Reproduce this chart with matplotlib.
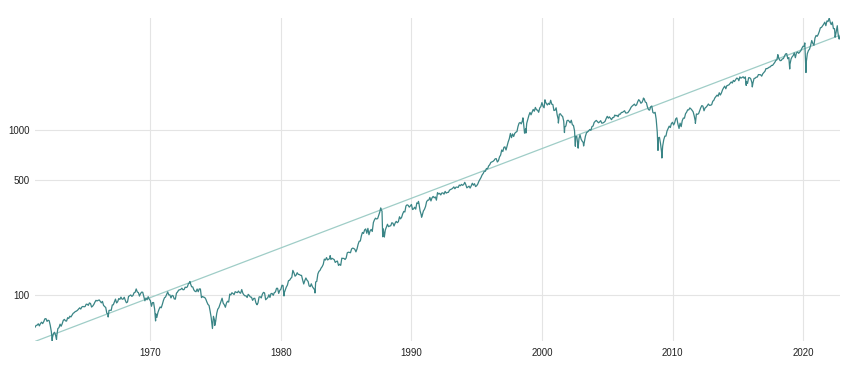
import numpy as np
import pandas as pd
import matplotlib.pyplot as plt
from matplotlib.ticker import NullLocator

plt.rcParams['font.family'] = ['Liberation Sans', 'DejaVu Sans']

# S&P 500 month-end closes, Feb 1961 .. Oct 2022
close = [
    63.44, 65.06, 65.31, 66.56, 64.64, 66.76, 68.07, 66.73, 68.62, 71.32, 71.55,
    68.84, 69.96, 69.55, 65.24, 59.63, 54.75, 58.23, 59.12, 56.27, 56.52, 62.26, 63.10,
    66.20, 64.29, 66.57, 69.80, 70.80, 69.37, 69.13, 72.50, 71.70, 74.01, 73.23, 75.02,
    77.04, 77.80, 78.98, 79.46, 80.37, 81.69, 83.18, 81.83, 84.18, 84.86, 84.42, 84.75,
    87.56, 87.43, 86.16, 89.11, 88.42, 84.12, 85.25, 87.17, 89.96, 92.42, 91.61, 92.43,
    92.88, 91.22, 89.23, 91.06, 86.13, 84.74, 83.60, 77.10, 76.56, 80.20, 80.45, 80.33,
    86.61, 86.78, 90.20, 94.01, 89.08, 90.64, 94.75, 93.64, 96.71, 93.90, 94.00, 96.47,
    92.24, 89.36, 90.20, 97.59, 98.68, 99.58, 97.74, 98.86, 102.67, 103.41, 108.37, 103.86,
    103.01, 98.13, 101.51, 103.69, 103.46, 97.71, 91.83, 95.51, 93.12, 97.24, 93.81, 92.06,
    85.02, 89.50, 89.63, 81.52, 76.55, 72.72, 78.05, 81.52, 84.21, 83.25, 87.20, 92.15,
    95.88, 96.75, 100.31, 103.95, 99.63, 99.70, 95.58, 99.03, 98.34, 94.23, 93.99, 102.09,
    103.94, 106.57, 107.20, 107.67, 109.53, 107.14, 107.39, 111.09, 110.55, 111.58, 116.67, 118.05,
    116.03, 111.68, 111.52, 106.97, 104.95, 104.26, 108.22, 104.25, 108.43, 108.29, 95.96, 97.55,
    96.57, 96.22, 93.98, 90.31, 87.28, 86.00, 79.31, 72.15, 63.54, 73.90, 69.97, 68.56,
    76.98, 81.59, 83.36, 87.30, 91.15, 95.19, 88.75, 86.88, 83.87, 89.04, 91.24, 90.19,
    100.86, 99.71, 102.77, 101.64, 100.18, 104.28, 103.44, 102.91, 105.24, 102.90, 102.10, 107.46,
    102.03, 99.82, 98.42, 98.44, 96.12, 100.48, 98.85, 96.77, 96.53, 92.34, 94.83, 95.10,
    89.25, 87.04, 89.21, 96.83, 97.24, 95.53, 100.68, 103.29, 102.54, 93.15, 94.70, 96.11,
    99.93, 96.28, 101.59, 101.76, 99.08, 102.91, 103.81, 109.32, 109.32, 101.82, 106.16, 107.94,
    114.16, 113.66, 102.09, 106.29, 111.24, 114.24, 121.67, 122.38, 125.46, 127.47, 140.52, 135.76,
    129.55, 131.27, 136.00, 132.81, 132.59, 131.21, 130.92, 122.79, 116.18, 121.89, 126.35, 122.55,
    120.40, 113.11, 111.96, 116.44, 111.88, 109.61, 107.09, 119.51, 120.42, 133.71, 138.54, 140.64,
    145.30, 148.06, 152.96, 164.42, 162.39, 168.11, 162.56, 164.40, 166.07, 163.55, 166.40, 164.93,
    163.41, 157.06, 159.18, 160.05, 150.55, 153.18, 150.66, 166.68, 166.10, 166.09, 163.58, 167.24,
    179.63, 181.18, 180.66, 179.83, 189.55, 191.85, 190.92, 188.63, 182.08, 189.82, 202.17, 211.28,
    211.78, 226.92, 238.90, 235.52, 247.35, 250.84, 236.12, 252.93, 231.32, 243.98, 249.22, 242.17,
    274.08, 284.20, 291.70, 288.36, 290.10, 304.00, 318.66, 329.80, 321.83, 251.79, 230.30, 247.08,
    257.07, 267.82, 258.89, 261.33, 262.16, 273.50, 272.02, 261.52, 271.91, 278.97, 273.70, 277.72,
    297.47, 288.86, 294.87, 309.64, 320.52, 317.98, 346.08, 351.45, 349.15, 340.36, 345.99, 353.40,
    329.08, 331.89, 339.94, 330.80, 361.23, 358.02, 356.15, 322.56, 306.05, 304.00, 322.22, 330.22,
    343.93, 367.07, 375.22, 375.35, 389.83, 371.16, 387.81, 395.43, 387.86, 392.45, 375.22, 417.09,
    408.79, 412.70, 403.69, 414.95, 415.35, 408.14, 424.21, 414.03, 417.80, 418.68, 431.35, 435.71,
    438.78, 443.38, 451.67, 440.19, 450.19, 450.53, 448.13, 463.56, 458.93, 467.83, 461.79, 466.45,
    481.61, 467.14, 445.77, 450.91, 456.50, 444.27, 458.26, 475.49, 462.69, 472.35, 453.69, 459.27,
    470.42, 487.39, 500.71, 514.71, 533.40, 544.75, 562.06, 561.88, 584.41, 581.50, 605.37, 615.93,
    636.02, 640.43, 645.50, 654.17, 669.12, 670.63, 639.95, 651.99, 687.33, 705.27, 757.02, 740.74,
    786.16, 790.82, 757.12, 801.34, 848.28, 885.14, 954.29, 899.47, 947.28, 914.62, 955.40, 970.43,
    980.28, 1049.34, 1101.75, 1111.75, 1090.82, 1133.84, 1120.67, 957.28, 1017.01, 1098.67, 1163.63, 1229.23,
    1279.64, 1238.33, 1286.37, 1335.18, 1301.84, 1372.71, 1328.72, 1320.41, 1282.71, 1362.93, 1388.91, 1469.25,
    1394.46, 1366.42, 1498.58, 1452.43, 1420.60, 1454.60, 1430.83, 1517.68, 1436.51, 1429.40, 1314.95, 1320.28,
    1366.01, 1239.94, 1160.33, 1249.46, 1255.82, 1224.42, 1211.23, 1133.58, 1040.94, 1059.78, 1139.45, 1148.08,
    1130.20, 1106.73, 1147.39, 1076.92, 1067.14, 989.82, 911.62, 916.07, 815.28, 885.76, 936.31, 879.82,
    855.70, 841.15, 848.18, 916.92, 963.59, 974.50, 990.31, 1008.01, 995.97, 1050.71, 1058.20, 1111.92,
    1131.13, 1144.94, 1126.21, 1107.30, 1120.68, 1140.84, 1101.72, 1104.24, 1114.58, 1130.20, 1173.82, 1211.92,
    1181.27, 1203.60, 1180.59, 1156.85, 1191.50, 1191.33, 1234.18, 1220.33, 1228.81, 1207.01, 1249.48, 1248.29,
    1280.08, 1280.66, 1294.83, 1310.61, 1270.09, 1270.20, 1276.66, 1303.82, 1335.85, 1377.94, 1400.63, 1418.30,
    1438.24, 1406.82, 1420.86, 1482.37, 1530.62, 1503.35, 1455.27, 1473.99, 1526.75, 1549.38, 1481.14, 1468.36,
    1378.55, 1330.63, 1322.70, 1385.59, 1400.38, 1280.00, 1267.38, 1282.83, 1166.36, 968.75, 896.24, 903.25,
    825.88, 735.09, 797.87, 872.81, 919.14, 919.32, 987.48, 1020.62, 1057.08, 1036.19, 1095.63, 1115.10,
    1073.87, 1104.49, 1169.43, 1186.69, 1089.41, 1030.71, 1101.60, 1049.33, 1141.20, 1183.26, 1180.55, 1257.64,
    1286.12, 1327.22, 1325.83, 1363.61, 1345.20, 1320.64, 1292.28, 1218.89, 1131.42, 1253.30, 1246.96, 1257.60,
    1312.41, 1365.68, 1408.47, 1397.91, 1310.33, 1362.16, 1379.32, 1406.58, 1440.67, 1412.16, 1416.18, 1426.19,
    1498.11, 1514.68, 1569.19, 1597.57, 1630.74, 1606.28, 1685.73, 1632.97, 1681.55, 1756.54, 1805.81, 1848.36,
    1782.59, 1859.45, 1872.34, 1883.95, 1923.57, 1960.23, 1930.67, 2003.37, 1972.29, 2018.05, 2067.56, 2058.90,
    1994.99, 2104.50, 2067.89, 2085.51, 2107.39, 2063.11, 2103.84, 1972.18, 1920.03, 2079.36, 2080.41, 2043.94,
    1940.24, 1932.23, 2059.74, 2065.30, 2096.95, 2098.86, 2173.60, 2170.95, 2168.27, 2126.15, 2198.81, 2238.83,
    2278.87, 2363.64, 2362.72, 2384.20, 2411.80, 2423.41, 2470.30, 2471.65, 2519.36, 2575.26, 2647.58, 2673.61,
    2823.81, 2713.83, 2640.87, 2648.05, 2705.27, 2718.37, 2816.29, 2901.52, 2913.98, 2711.74, 2760.17, 2506.85,
    2704.10, 2784.49, 2834.40, 2945.83, 2752.06, 2941.76, 2980.38, 2926.46, 2976.74, 3037.56, 3140.98, 3230.78,
    3225.52, 2954.22, 2584.59, 2912.43, 3044.31, 3100.29, 3271.12, 3500.31, 3363.00, 3269.96, 3621.63, 3756.07,
    3714.24, 3811.15, 3972.89, 4181.17, 4204.11, 4297.50, 4395.26, 4522.68, 4307.54, 4605.38, 4567.00, 4766.18,
    4515.55, 4373.94, 4530.41, 4131.93, 4132.15, 3785.38, 4130.29, 3955.00, 3585.62, 3700.00,
]

# intra-month highs and lows that show up as spikes
spike_dates = [
    '1962-06-26', '1962-10-23', '1966-10-07', '1970-05-26', '1973-01-11',
    '1974-10-03', '1974-12-06', '1978-03-06', '1980-03-27', '1982-08-12',
    '1983-10-10', '1987-08-25', '1987-10-19', '1987-12-04', '1990-07-16',
    '1990-10-11', '1998-07-17', '1998-10-08', '2000-03-24', '2001-04-04',
    '2001-09-21', '2002-07-23', '2002-10-09', '2003-03-11', '2007-10-09',
    '2008-11-20', '2009-03-09', '2010-07-02', '2011-10-03', '2015-08-25',
    '2016-02-11', '2018-01-26', '2018-12-24', '2020-02-19', '2020-03-23',
    '2022-01-03', '2022-06-16', '2022-08-16', '2022-10-12',
]
spike_values = [
    52.32, 53.49, 73.20, 69.29, 120.24,
    62.28, 65.01, 86.90, 98.22, 102.42,
    172.65, 336.77, 224.84, 223.92, 368.95,
    295.46, 1186.75, 959.44, 1527.46, 1103.25,
    965.80, 797.70, 776.76, 800.73, 1565.15,
    752.44, 676.53, 1022.58, 1099.23, 1867.61,
    1829.08, 2872.87, 2351.10, 3386.15, 2237.40,
    4796.56, 3666.77, 4305.20, 3577.03,
]

trend_dates = ['1961-02-28', '2022-10-31']
trend_values = [52.0, 3770.0]

y_ticks = [100, 500, 1000]
x_ticks = [1970, 1980, 1990, 2000, 2010, 2020]

month_dates = pd.date_range('1961-02-01', periods=len(close), freq='MS') + pd.offsets.MonthEnd(0)
s = pd.concat([pd.Series(close, index=month_dates),
               pd.Series(spike_values, index=pd.to_datetime(spike_dates))]).sort_index()

fig = plt.figure(figsize=(8.5, 3.69), dpi=100)
ax = fig.add_axes([35 / 850, 1 - 341 / 369, 805 / 850, 323 / 369])

ax.plot(pd.to_datetime(trend_dates), trend_values, '-', color='#9fcdc7', lw=0.9)
ax.plot(s.index, s.values, '-', color='#3a8586', lw=0.9)

ax.set_yscale('log')
ax.set_ylim(s.min(), s.max())
ax.set_xlim(s.index[0], s.index[-1])
ax.set_yticks(y_ticks)
ax.set_yticklabels([str(v) for v in y_ticks])
ax.yaxis.set_minor_locator(NullLocator())
ax.set_xticks([pd.Timestamp(f'{y}-01-01') for y in x_ticks])
ax.set_xticklabels([str(y) for y in x_ticks])

ax.grid(True, color='#e4e4e4', lw=0.8)
ax.set_axisbelow(True)
for sp in ax.spines.values():
    sp.set_visible(False)
ax.tick_params(length=0, labelsize=7, colors='#222222')
ax.tick_params(axis='x', pad=5)
ax.tick_params(axis='y', pad=4)

plt.savefig('out.png', dpi=100)
